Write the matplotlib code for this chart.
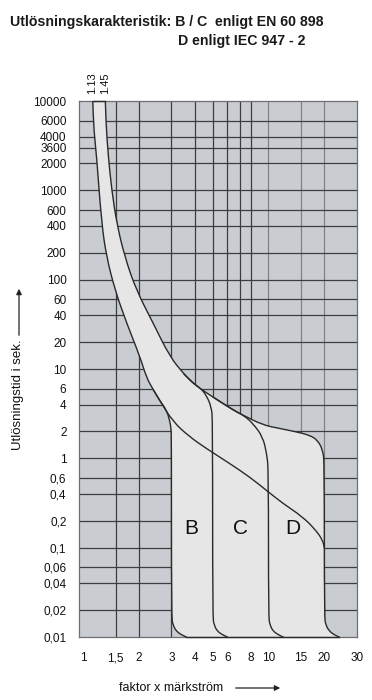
import matplotlib
matplotlib.use("Agg")
import matplotlib.pyplot as plt
import numpy as np
from matplotlib.path import Path
from matplotlib.patches import PathPatch, FancyArrowPatch

plt.rcParams['font.family'] = ['Liberation Sans', 'DejaVu Sans']

# ---- data ----
x_ticks = [1, 1.5, 2, 3, 4, 5, 6, 8, 10, 15, 20, 30]
x_tick_labels = ["1", "1,5", "2", "3", "4", "5", "6", "8", "10", "15", "20", "30"]
x_grid = [1.5, 2, 3, 4, 5, 6, 7, 8, 10, 15, 20]
y_ticks = [0.01, 0.02, 0.04, 0.06, 0.1, 0.2, 0.4, 0.6, 1, 2, 4, 6, 10, 20, 40, 60,
           100, 200, 400, 600, 1000, 2000, 3000, 4000, 6000, 10000]
y_tick_labels = ["0,01", "0,02", "0,04", "0,06", "0,1", "0,2", "0,4", "0,6", "1", "2", "4", "6",
                 "10", "20", "40", "60", "100", "200", "400", "600", "1000", "2000", "3600",
                 "4000", "6000", "10000"]

# thermal lower limit (1.13) down to branch point
L_x = [1.13, 1.136, 1.185, 1.26, 1.34, 1.49, 1.72, 2.03, 2.2, 2.4, 2.6]
L_y = [10000, 5670, 2380, 430, 180, 76, 32.6, 13.7, 8.0, 5.8, 4.4]
# B lower limit: bend into vertical at 3, rounded foot
BL_x = [2.6, 2.82, 2.93, 2.98, 3.0, 3.0, 3.06, 3.19, 3.39, 3.61]
BL_y = [4.4, 3.47, 2.68, 2.2, 1.8, 0.0168, 0.0135, 0.0116, 0.0106, 0.01]
# continuation of lower limit (C / D)
LE_x = [2.4, 2.6, 3.06, 3.76, 4.62, 6.17, 7.9, 9.72, 11.95, 15.3, 18.0, 19.6, 20.0]
LE_y = [5.8, 4.4, 2.56, 1.74, 1.29, 0.877, 0.62, 0.44, 0.313, 0.221, 0.157, 0.121, 0.10]
# thermal upper limit (1.45)
R_x = [1.32, 1.33, 1.37, 1.43, 1.52, 1.68, 1.94, 2.39, 2.94, 3.5, 3.9]
R_y = [10000, 5670, 2380, 1000, 430, 180, 76, 32.6, 13.7, 8.8, 7.0]
# upper limit continued to D (vertical at 20)
RC_x = [3.9, 4.3, 5.02, 6.4, 7.28, 9.32, 11.5, 14.1, 16.6, 18.4, 19.6, 20.0, 20.0, 20.4, 21.3, 22.6, 24.0]
RC_y = [7.0, 6.0, 4.86, 3.5, 3.05, 2.36, 2.16, 1.98, 1.82, 1.6, 1.24, 0.9, 0.0168, 0.0135, 0.0116, 0.0106, 0.01]
# B upper limit (vertical at 5)
BU_x = [3.5, 3.9, 4.3, 4.62, 4.92, 5.0, 5.0, 5.1, 5.3, 5.65, 6.0]
BU_y = [8.8, 7.0, 6.1, 5.1, 3.77, 2.68, 0.0168, 0.0135, 0.0116, 0.0106, 0.01]
# C upper limit (vertical at 10)
CU_x = [5.02, 6.4, 7.4, 8.24, 9.32, 9.78, 10.0, 10.0, 10.2, 10.6, 11.3, 12.0]
CU_y = [4.86, 3.5, 3.0, 2.46, 1.74, 1.13, 0.75, 0.0168, 0.0135, 0.0116, 0.0106, 0.01]

labels = ["B", "C", "D"]
label_x = [3.85, 7.07, 13.6]
label_y = [0.165, 0.165, 0.165]


def smooth(xs, ys, first=True):
    """Quadratic B-spline style path through the read points (log space midpoints)."""
    n = len(xs)
    verts = [(xs[0], ys[0])]
    codes = [Path.MOVETO if first else Path.LINETO]
    for i in range(1, n - 1):
        mx = 10 ** ((np.log10(xs[i]) + np.log10(xs[i + 1])) / 2)
        my = 10 ** ((np.log10(ys[i]) + np.log10(ys[i + 1])) / 2)
        verts += [(xs[i], ys[i]), (mx, my)]
        codes += [Path.CURVE3, Path.CURVE3]
    verts.append((xs[-1], ys[-1]))
    codes.append(Path.LINETO)
    return verts, codes


# ---- figure ----
W, H = 372, 700
fig = plt.figure(figsize=(W / 100, H / 100), dpi=100)
ax = fig.add_axes([79 / W, 63 / H, 278 / W, 536 / H])
ax.set_xscale('log')
ax.set_yscale('log')
ax.set_xlim(0.952, 30)
ax.set_ylim(0.01, 10000)
ax.set_facecolor('#c9ccd1')

for gx in x_grid:
    ax.axvline(gx, color='#808286' if gx >= 10 else '#3c3d40', lw=0.9, zorder=1)
for gy in y_ticks[1:-1]:
    ax.axhline(gy, color='#3c3d40', lw=0.9, zorder=1)

# filled union of the bands
segs = [
    ([1.13, 1.32], [10000, 10000]),
    (R_x + RC_x[1:], R_y + RC_y[1:]),
    ([24.0, 3.61], [0.01, 0.01]),
    (BL_x[::-1], BL_y[::-1]),
    (L_x[::-1], L_y[::-1]),
]
fv, fc = [], []
for k, (sx, sy) in enumerate(segs):
    v, c = smooth(sx, sy, first=(k == 0))
    fv += v
    fc += c
fv.append(fv[0])
fc.append(Path.CLOSEPOLY)
ax.add_patch(PathPatch(Path(fv, fc), facecolor='#e6e6e6', edgecolor='none', zorder=2))

lc = '#2a2a2a'
lw = 1.0
for sx, sy in [(L_x + BL_x[1:], L_y + BL_y[1:]),
               (LE_x, LE_y),
               (R_x + RC_x[1:], R_y + RC_y[1:]),
               (BU_x, BU_y),
               (CU_x, CU_y)]:
    v, c = smooth(sx, sy)
    ax.add_patch(PathPatch(Path(v, c), facecolor='none', edgecolor=lc, lw=lw, zorder=3,
                           capstyle='round', joinstyle='round'))
ax.plot([1.13, 1.32], [10000, 10000], color=lc, lw=lw, zorder=3, clip_on=False)
ax.plot([3.61, 24.0], [0.01, 0.01], color=lc, lw=lw, zorder=3, clip_on=False)

for t, lx, ly in zip(labels, label_x, label_y):
    ax.text(lx, ly, t, fontsize=15, ha='center', va='center', color='#111111', zorder=4)

ax.set_xticks(x_ticks)
ax.set_xticklabels(x_tick_labels)
ax.set_yticks(y_ticks)
ax.set_yticklabels(y_tick_labels)
ax.minorticks_off()
ax.tick_params(axis='both', length=0, labelsize=8.5, colors='#111111')
ax.tick_params(axis='y', pad=9)
ax.tick_params(axis='x', pad=11)
for s in ax.spines.values():
    s.set_color('#6e6f72')
    s.set_linewidth(0.9)

# 1.13 / 1.45 labels
ax.text(1.12, 12000, "1.13", rotation=90, fontsize=8, ha='center', va='bottom', color='#111111')
ax.text(1.31, 12000, "1.45", rotation=90, fontsize=8, ha='center', va='bottom', color='#111111')

# titles
fig.text(10 / W, 1 - 26 / H, "Utlösningskarakteristik: B / C  enligt EN 60 898",
         fontsize=10.2, fontweight='bold', ha='left', va='baseline', color='#1a1a1a')
fig.text(178 / W, 1 - 45 / H, "D enligt IEC 947 - 2",
         fontsize=10.2, fontweight='bold', ha='left', va='baseline', color='#1a1a1a')

# axis labels with arrows
fig.text(18 / W, 1 - 395 / H, "Utlösningstid i sek.", rotation=90, fontsize=9.5,
         ha='center', va='center', color='#111111')
fig.add_artist(FancyArrowPatch((19 / W, 1 - 338 / H), (19 / W, 1 - 286 / H),
               transform=fig.transFigure, arrowstyle='-|>', mutation_scale=8, lw=0.9, color='#222222'))
fig.text(171 / W, 1 - 688 / H, "faktor x märkström", fontsize=9,
         ha='center', va='center', color='#111111')
fig.add_artist(FancyArrowPatch((233 / W, 1 - 688 / H), (283 / W, 1 - 688 / H),
               transform=fig.transFigure, arrowstyle='-|>', mutation_scale=8, lw=0.9, color='#222222'))

fig.savefig('out.png', dpi=100)
